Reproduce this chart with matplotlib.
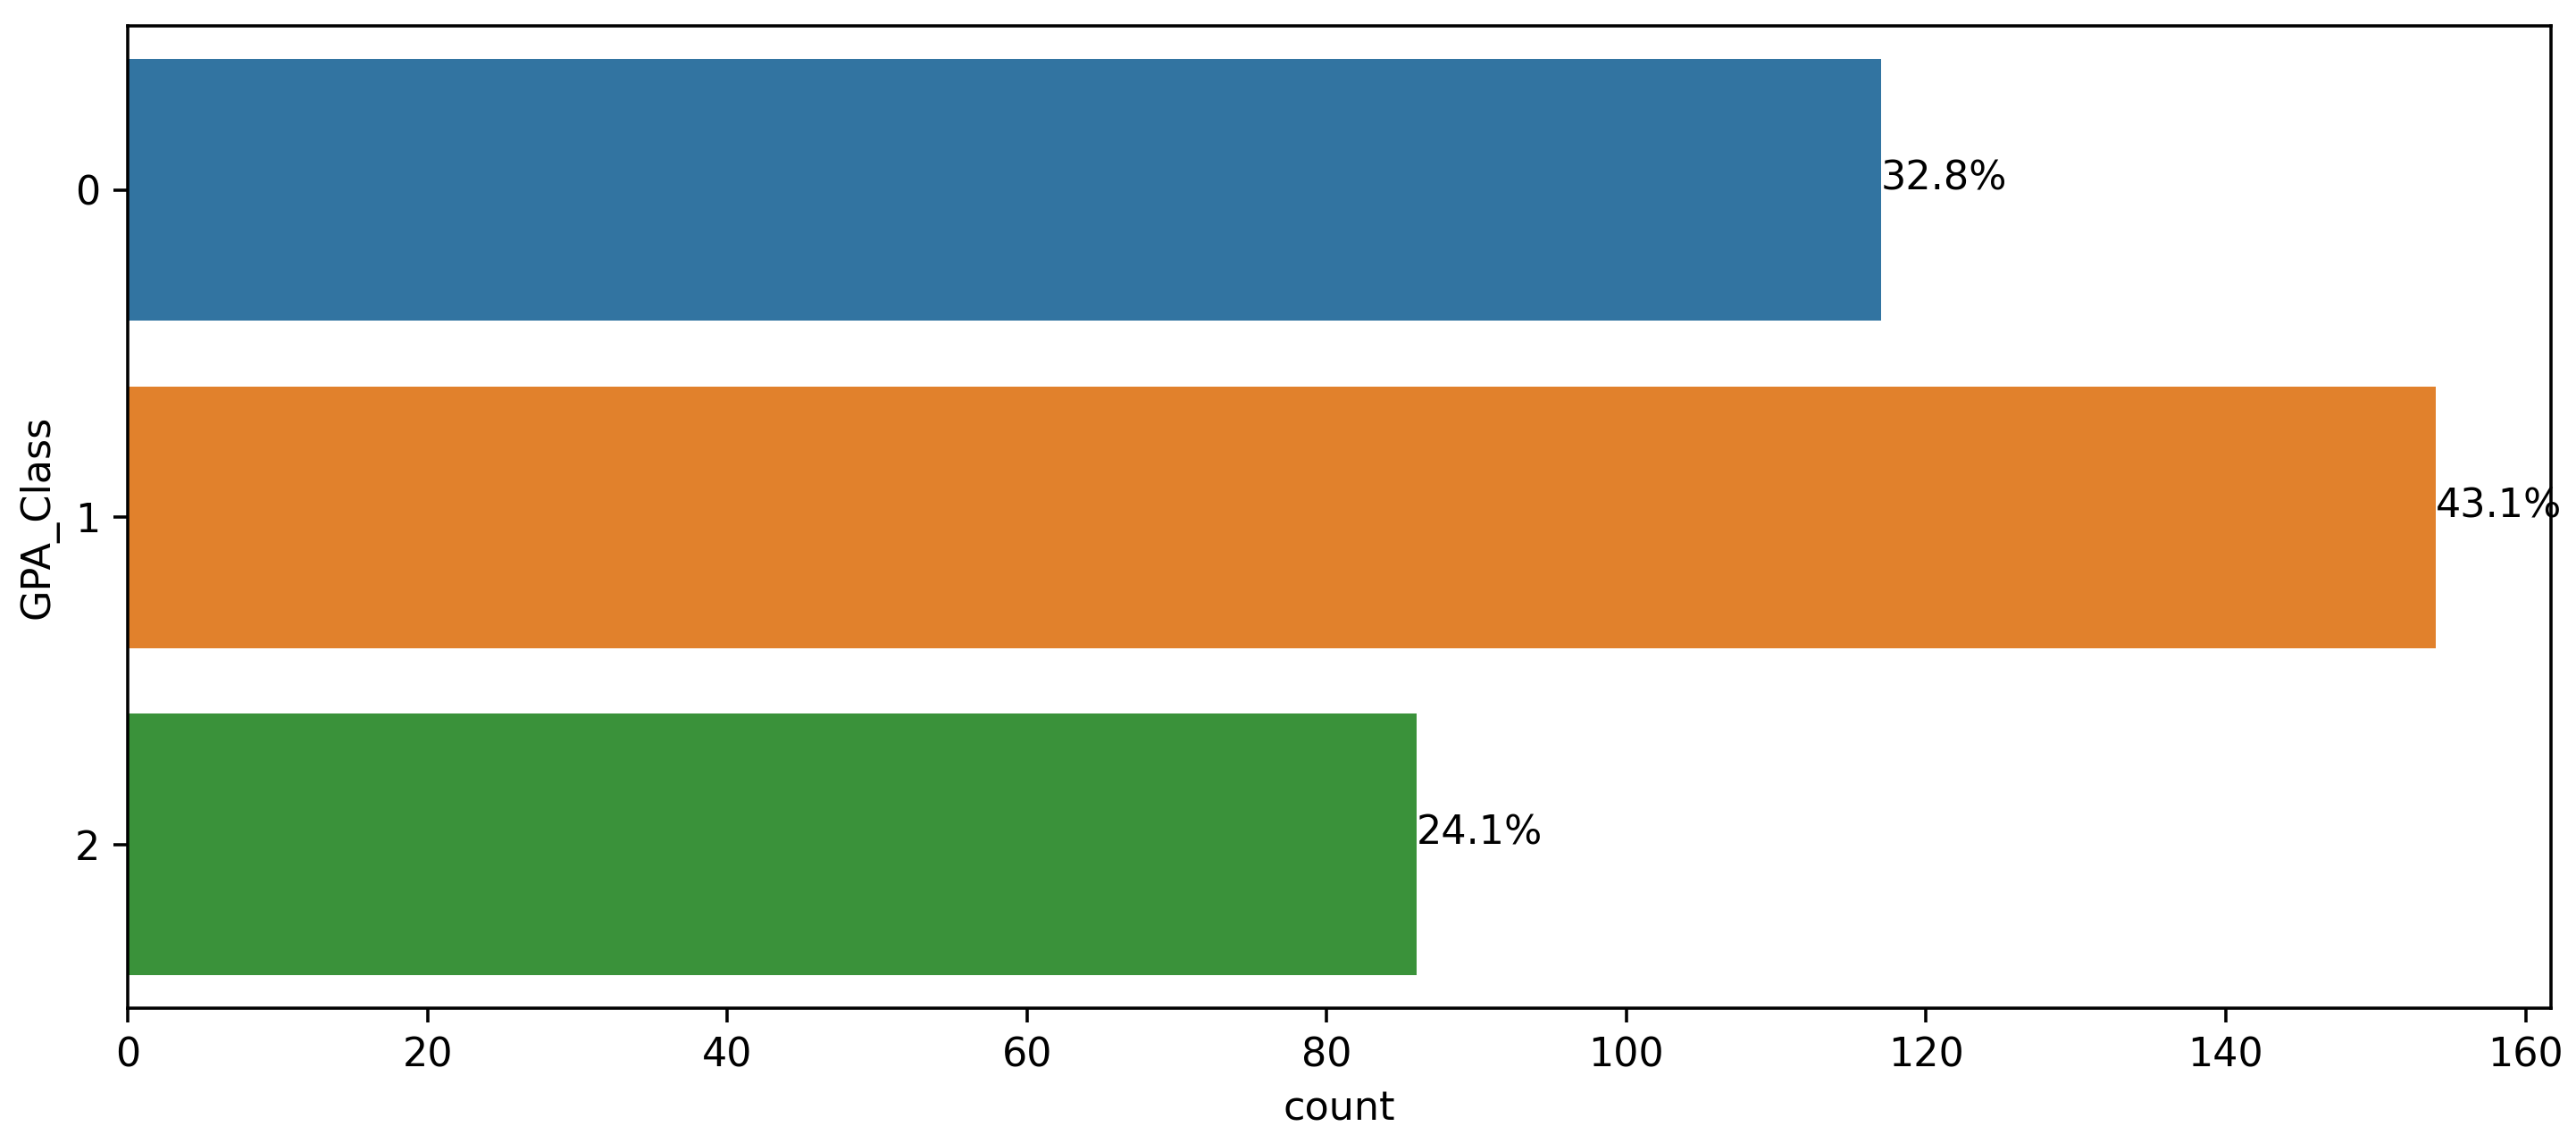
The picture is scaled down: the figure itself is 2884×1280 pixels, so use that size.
import matplotlib
matplotlib.use('Agg')
import matplotlib.pyplot as plt
import numpy as np

# datos
clases = ['0', '1', '2']
conteos = [117, 154, 86]
colores = ['#3274a1', '#e1812c', '#3a923a']

total = sum(conteos)
posiciones = np.arange(len(clases))

fig = plt.figure(figsize=(2884 / 320, 1280 / 320), dpi=320)
ax = fig.add_axes([0.0496, 0.118, 0.9407, 0.859])

barras = ax.barh(posiciones, conteos, height=0.8, color=colores)

# porcentaje al final de cada barra
for p in barras:
    pct = '{:.1f}%'.format(100 * p.get_width() / total)
    ax.annotate(pct, (p.get_width(), p.get_y() + p.get_height() / 2))

ax.set_yticks(posiciones)
ax.set_yticklabels(clases)
ax.set_ylim(2.5, -0.5)
ax.set_xlim(0, max(conteos) * 1.05)
ax.set_xticks(range(0, 161, 20))
ax.set_xlabel('count')
ax.set_ylabel('GPA_Class')

fig.savefig('out.png', dpi=320)
